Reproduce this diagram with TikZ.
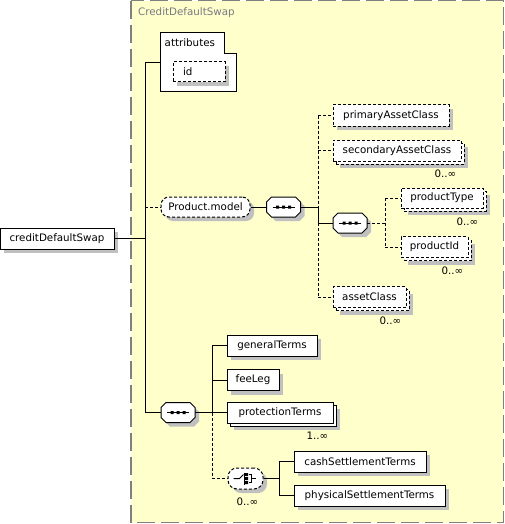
\documentclass[tikz,border=0pt]{standalone}
\usepackage{fontspec}
\setmainfont{DejaVu Sans}
\usetikzlibrary{shadows,calc}
\definecolor{frameyellow}{RGB}{255,255,204}
\definecolor{shadowgray}{RGB}{192,192,192}
\definecolor{framegray}{RGB}{128,128,128}
\definecolor{titlegray}{RGB}{120,120,130}
\tikzset{
  sh/.style={general shadow={fill=shadowgray, shadow xshift=4pt, shadow yshift=-4pt}},
  shmulti/.style={general shadow={fill=shadowgray, shadow xshift=7pt, shadow yshift=-7pt},
                  copy shadow={shadow xshift=3pt, shadow yshift=-3pt, draw=black, fill=white, line width=1pt, #1}},
  txt/.style={font=\fontsize{10.3}{12}\selectfont},
  elembase/.style={draw=black, fill=white, line width=1pt, inner sep=0pt, minimum height=21pt, txt},
  elem/.style={elembase, sh},
  optelem/.style={elembase, opt, sh},
  multielem/.style={elembase, shmulti={}},
  optmultielem/.style={elembase, opt, shmulti={opt}},
  opt/.style={dash pattern=on 3pt off 2pt},
  conn/.style={line width=1pt, draw=black},
  card/.style={txt, inner sep=0pt, anchor=east},
}
\newcommand\seqbox[3]{%
  \path[draw=black, fill=white, line width=1pt, sh, shift={(#2,#3)}]
    (-17,-5) -- (-12,-10) -- (12,-10) -- (17,-5) -- (17,5) -- (12,10) -- (-12,10) -- (-17,5) -- cycle;
  \node[inner sep=0pt, minimum width=34pt, minimum height=20pt] (#1) at (#2,#3) {};
  \draw[line width=1pt, shift={(#2,#3)}] (-11,0) -- (11,0);
  \fill[shift={(#2,#3)}] (-7.5,-1.5) rectangle (-4.5,1.5) (-1.5,-1.5) rectangle (1.5,1.5) (4.5,-1.5) rectangle (7.5,1.5);
}
\begin{document}
\begin{tikzpicture}[x=1pt,y=-1pt]
\useasboundingbox (0,0) rectangle (505,524);
% frame
\path[fill=frameyellow, draw=framegray, line width=1.3pt, dash pattern=on 18pt off 6pt]
  (131,0.7) rectangle (503.8,522.5);
\node[txt, text=titlegray, anchor=west, inner sep=0pt] (title) at (138,13) {CreditDefaultSwap};

% root element
\node[elem, minimum width=114pt] (cds) at (57,238.5) {creditDefaultSwap};

% attributes
\path[draw=black, fill=white, line width=1pt]
  (160,33) -- (224,33) -- (224,54) -- (236,54) -- (236,92) -- (160,92) -- cycle;
\node[inner sep=0pt, minimum width=76pt, minimum height=59pt] (attr) at (198,62.5) {};
\node[txt, anchor=west, inner sep=0pt] (attrlabel) at (164.5,43) {attributes};
\node[optelem, minimum width=52pt, minimum height=20pt] (id) at (199,72) {\makebox[32pt][l]{id}};

% Product.model group
\node[elembase, opt, rounded corners=8pt, minimum width=89pt, minimum height=20pt, sh] (pm) at (205.5,207) {Product.model};
\seqbox{seqA}{283.5}{207}
\node[optelem, minimum width=116pt] (pac) at (391,115.5) {primaryAssetClass};
\node[optmultielem, minimum width=128pt] (sac) at (397,150.5) {secondaryAssetClass};
\seqbox{seqB}{350}{223}
\node[optmultielem, minimum width=82pt, minimum height=20pt] (ptype) at (442,198) {productType};
\node[optmultielem, minimum width=67pt] (pid) at (434.5,247) {productId};
\node[optmultielem, minimum width=73pt] (acl) at (369.5,297) {assetClass};

\node[card] (c1) at ($(sac.south east)+(-5,12)$) {0..∞};
\node[card] (c2) at ($(ptype.south east)+(-5,13.5)$) {0..∞};
\node[card] (c3) at ($(pid.south east)+(-5,13)$) {0..∞};
\node[card] (c4) at ($(acl.south east)+(-5,13)$) {0..∞};

% bottom sequence
\seqbox{seqC}{178}{412.5}
\node[elem, minimum width=90pt] (gt) at (272,345.5) {generalTerms};
\node[elem, minimum width=52pt] (fl) at (253,380) {feeLeg};
\node[multielem, minimum width=106pt] (ptm) at (280,412.5) {protectionTerms};
\node[card] (c5) at ($(ptm.south east)+(-5,12.5)$) {1..∞};

% choice
\node[elembase, opt, rounded corners=9pt, minimum width=35pt, minimum height=21pt, sh] (ch) at (245.5,478.5) {};
\begin{scope}[shift={(245.5,478.5)}]
  \draw[line width=1pt] (-12,0) -- (-6,0) -- (-2,-4);
  \draw[line width=1pt] (-1,-6) -- (-1,6);
  \fill (-0.5,-5.5) rectangle (2.5,-2.5) (-0.5,-1.5) rectangle (2.5,1.5) (-0.5,2.5) rectangle (2.5,5.5);
  \draw[line width=1pt] (3,-4) -- (6,-4) -- (6,4) -- (3,4) (6,0) -- (10,0);
\end{scope}
\node[card] (c6) at ($(ch.south east)+(-5,12.5)$) {0..∞};
\node[elem, minimum width=132pt] (cst) at (360,461.5) {cashSettlementTerms};
\node[elem, minimum width=151pt] (pst) at (369.5,495.5) {physicalSettlementTerms};

% connectors, root level
\coordinate (jA) at (145,62.5);
\coordinate (jB) at (145,412.5);
\coordinate (jR) at (145,238.5);
\coordinate (jP) at (145,207);
\draw[conn] (cds.east) -- (jR);
\draw[conn] (jA) -- (jB);
\draw[conn] (jA) -- (attr.west);
\draw[conn, opt] (jP) -- (pm.west);
\draw[conn] (jB) -- (seqC.west);

% Product.model content
\coordinate (k0) at (318,207);
\coordinate (k1) at (318,115.5);
\coordinate (k2) at (318,150.5);
\coordinate (k3) at (318,223);
\coordinate (k4) at (318,297);
\draw[conn] (pm.east) -- (seqA.west);
\draw[conn] (seqA.east) -- (k0);
\draw[conn, opt] (k1) -- (k0);
\draw[conn] (k0) -- (k3);
\draw[conn, opt] (k3) -- (k4);
\draw[conn, opt] (k1) -- (pac.west);
\draw[conn, opt] (k2) -- (sac.west);
\draw[conn, opt] (k4) -- (acl.west);
\draw[conn] (k3) -- (seqB.west);
\coordinate (m0) at (385,223);
\coordinate (m1) at (385,198);
\coordinate (m2) at (385,247);
\draw[conn, opt] (seqB.east) -- (m0);
\draw[conn, opt] (m1) -- (m2);
\draw[conn, opt] (m1) -- (ptype.west);
\draw[conn, opt] (m2) -- (pid.west);

% bottom content
\coordinate (n0) at (212,412.5);
\coordinate (n1) at (212,345.5);
\coordinate (n2) at (212,380);
\coordinate (n4) at (212,478.5);
\draw[conn] (seqC.east) -- (n0);
\draw[conn] (n1) -- (n0);
\draw[conn, opt] (n0) -- (n4);
\draw[conn] (n1) -- (gt.west);
\draw[conn] (n2) -- (fl.west);
\draw[conn] (n0) -- (ptm.west);
\draw[conn, opt] (n4) -- (ch.west);
\coordinate (p0) at (279,478.5);
\coordinate (p1) at (279,461.5);
\coordinate (p2) at (279,495.5);
\draw[conn] (ch.east) -- (p0);
\draw[conn] (p1) -- (p2);
\draw[conn] (p1) -- (cst.west);
\draw[conn] (p2) -- (pst.west);
\end{tikzpicture}
\end{document}
